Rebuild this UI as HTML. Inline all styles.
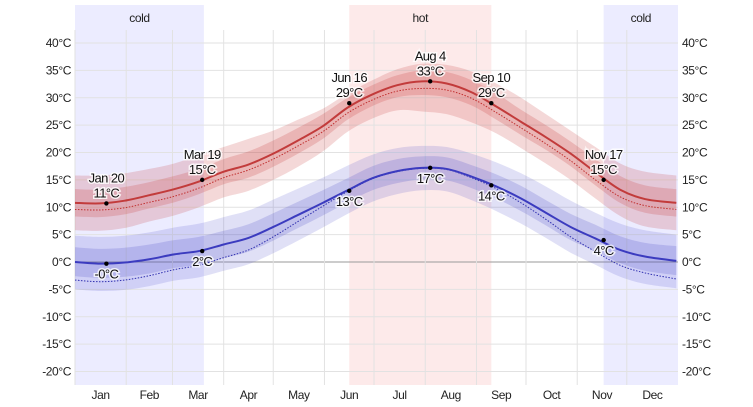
<!DOCTYPE html>
<html><head><meta charset="utf-8"><style>
body{margin:0;background:#fff}
svg{display:block;font-family:"Liberation Sans",sans-serif}
.t{font-size:12px;fill:#222;letter-spacing:-0.4px}
.ann{font-size:13px;fill:#111;letter-spacing:-0.6px;paint-order:stroke;stroke:#fff;stroke-width:3px;stroke-opacity:0.8}
</style></head><body>
<svg id="c" width="753" height="407"></svg>
<script>
const days=[0,15,30,45,60,75,90,105,120,135,150,165,180,195,210,225,240,255,270,285,300,315,330,345,364];
const highAvg=[10.8,10.7,11.2,12.2,13.3,14.7,16.5,17.8,19.8,22.2,24.8,28.2,30.6,32.3,33.0,32.6,31.0,28.4,25.6,22.8,19.8,16.4,13.2,11.5,10.8];
const lowAvg=[0.0,-0.3,-0.1,0.5,1.4,2.0,3.2,4.4,6.4,8.6,10.8,13.1,15.3,16.6,17.2,17.0,15.6,13.8,11.6,9.0,6.4,4.3,2.2,1.0,0.2];
const highFeels=[9.6,9.5,9.9,10.9,12.0,13.5,15.4,16.8,18.8,21.2,23.8,27.2,29.6,31.2,31.7,31.4,29.9,27.3,24.5,21.6,18.5,15.0,11.9,10.3,9.6];
const lowFeels=[-3.3,-3.6,-3.3,-2.5,-1.4,-0.6,0.8,2.2,4.6,7.4,10.2,12.9,15.2,16.5,17.1,16.9,15.4,13.4,10.8,7.8,4.6,1.9,-0.6,-2.0,-3.1];
const highP90=[15.8,15.8,16.2,17,18,19.5,21,22.5,24,26,28,30.8,33.2,35.2,36.2,36,34.8,32.6,30,27,24,21,18,16.5,15.8];
const highP75=[13.3,13.2,13.7,14.6,15.7,17,18.8,20.2,22.2,24.5,27,30,32.3,34.1,35,34.7,33.2,30.8,27.8,25,22,18.8,15.7,14,13.3];
const highP25=[8.3,8.2,8.7,9.8,10.9,12.4,14.2,15.4,17.4,19.8,22.5,26,28.5,30.1,30.5,30.1,28.6,26,23.2,20.5,17.5,14,10.8,9,8.3];
const highP10=[5.8,5.7,6.2,7.4,8.5,10,11.8,13,15,17.4,20.2,23.8,26.2,27.7,27.5,27,25.5,23.5,20.8,18,15,11.6,8.4,6.5,5.8];
const lowP90=[4.8,4.6,4.8,5.4,6.3,7,8.2,9.4,11.4,13.4,15.4,17.6,19.6,20.8,21.2,21,19.8,18.2,16.2,13.8,11.2,9,7,5.8,5];
const lowP75=[2.7,2.4,2.6,3.2,4.0,4.6,5.7,6.9,8.9,11,13.1,15.3,17.5,18.8,19.3,19.1,17.7,16,13.9,11.3,8.8,6.8,4.7,3.5,2.9];
const lowP25=[-2.6,-2.9,-2.7,-2.1,-1.1,-0.5,0.7,1.9,3.9,6.2,8.5,10.9,13.1,14.4,15.1,14.9,13.5,11.6,9.3,6.7,4,2,-0.2,-1.6,-2.4];
const lowP10=[-5,-5.3,-5.1,-4.4,-3.4,-2.8,-1.6,-0.4,1.6,3.9,6.3,8.8,11,12.4,13.1,12.9,11.3,9.3,7,4.4,1.7,-0.5,-2.7,-4,-4.8];
const yTicks=[40,35,30,25,20,15,10,5,0,-5,-10,-15,-20];
const months=["Jan","Feb","Mar","Apr","May","Jun","Jul","Aug","Sep","Oct","Nov","Dec"];
const monthLen=[31,28,31,30,31,30,31,31,30,31,30,31];
const seasons=[{name:"cold",from:0,to:78},{name:"hot",from:166,to:252},{name:"cold",from:320,to:365}];
const highMarks=[{d:19,label:"Jan 20",v:10.7},{d:77,label:"Mar 19",v:15},{d:166,label:"Jun 16",v:29},{d:215,label:"Aug 4",v:33},{d:252,label:"Sep 10",v:29},{d:320,label:"Nov 17",v:15}];
const lowMarks=[{d:19,label:"-0°C",v:-0.3},{d:77,label:"2°C",v:2},{d:166,label:"13°C",v:13},{d:215,label:"17°C",v:17.2},{d:252,label:"14°C",v:14},{d:320,label:"4°C",v:4}];

const X0=75,X1=678,Y0=5,Y1=385;
const x=d=>X0+d*(X1-X0)/365;
const y=t=>262-t*5.475;
const NS="http://www.w3.org/2000/svg";
const svg=document.getElementById("c");
function mk(tag,at,parent){const e=document.createElementNS(NS,tag);for(const k in at)e.setAttribute(k,at[k]);(parent||svg).appendChild(e);return e;}
function pts(vals){return days.map((d,i)=>[x(d),y(vals[i])]);}
function smooth(p){let s="M"+p[0][0]+","+p[0][1];for(let i=0;i<p.length-1;i++){const a=p[i-1]||p[i],b=p[i],c=p[i+1],d=p[i+2]||c;s+=" C"+(b[0]+(c[0]-a[0])/6)+","+(b[1]+(c[1]-a[1])/6)+" "+(c[0]-(d[0]-b[0])/6)+","+(c[1]-(d[1]-b[1])/6)+" "+c[0]+","+c[1];}return s;}
function band(top,bot){const t=pts(top),b=pts(bot).reverse();let s=smooth(t);const bs=smooth(b);s+=" L"+bs.slice(1);return s+"Z";}

seasons.forEach(s=>{
  const r=mk("rect",{x:x(s.from),y:Y0,width:x(s.to)-x(s.from),height:Y1-Y0,fill:s.name=="cold"?"#ececff":"#fdeaea"});
  
  
  const t=mk("text",{x:(x(s.from)+x(s.to))/2,y:22,"text-anchor":"middle",class:"t"});t.textContent=s.name;
  
  
});
yTicks.forEach(v=>{
  const l=mk("line",{x1:X0,x2:X1,y1:y(v),y2:y(v),stroke:v==0?"#999":"#e2e2e2","stroke-width":1});
  
  
  const a=mk("text",{x:71,y:y(v)+4,"text-anchor":"end",class:"t"});a.textContent=v+"°C";
  
  
  const b=mk("text",{x:682,y:y(v)+4,class:"t"});b.textContent=v+"°C";
  
  
});
let acc=0;
months.forEach((m,i)=>{
  const g=mk("line",{x1:x(acc),x2:x(acc),y1:30,y2:Y1,stroke:"#e2e2e2"});
  
  
  const t=mk("text",{x:x(acc+monthLen[i]/2),y:399,"text-anchor":"middle",class:"t"});t.textContent=m;
  
  
  acc+=monthLen[i];
});
const b1=mk("path",{d:band(highP90,highP10),fill:"rgba(200,60,60,0.2)"});


const b2=mk("path",{d:band(highP75,highP25),fill:"rgba(200,60,60,0.22)"});


const b3=mk("path",{d:band(lowP90,lowP10),fill:"rgba(70,70,200,0.17)"});


const b4=mk("path",{d:band(lowP75,lowP25),fill:"rgba(70,70,200,0.2)"});


const l1=mk("path",{d:smooth(pts(highFeels)),fill:"none",stroke:"#c03030","stroke-width":1,"stroke-dasharray":"1.5,1.5"});


const l2=mk("path",{d:smooth(pts(lowFeels)),fill:"none",stroke:"#3030b0","stroke-width":1,"stroke-dasharray":"1.5,1.5"});


const l3=mk("path",{d:smooth(pts(highAvg)),fill:"none",stroke:"#c23b3b","stroke-width":2});


const l4=mk("path",{d:smooth(pts(lowAvg)),fill:"none",stroke:"#3b3bbf","stroke-width":2});


highMarks.forEach(m=>{
  const c=mk("circle",{cx:x(m.d),cy:y(m.v),r:2.2,fill:"#000"});
  
  
  const a=mk("text",{x:x(m.d),y:y(m.v)-21,"text-anchor":"middle",class:"ann"});a.textContent=m.label;
  
  
  const b=mk("text",{x:x(m.d),y:y(m.v)-6,"text-anchor":"middle",class:"ann"});b.textContent=Math.round(m.v)+"°C";
  
  
});
lowMarks.forEach(m=>{
  const c=mk("circle",{cx:x(m.d),cy:y(m.v),r:2.2,fill:"#000"});
  
  
  const b=mk("text",{x:x(m.d),y:y(m.v)+15,"text-anchor":"middle",class:"ann"});b.textContent=m.label;
  
  
});
</script>
</body></html>
